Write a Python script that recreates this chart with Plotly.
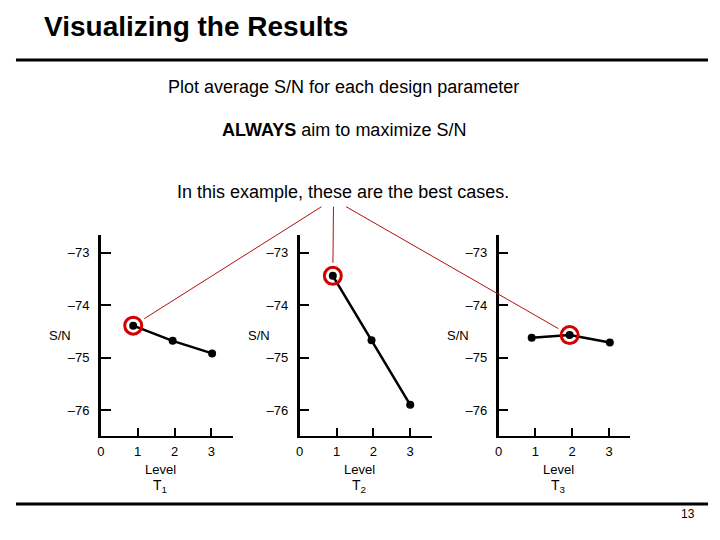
import plotly.graph_objects as go
import math

# ---- data ----
panel_names = ["T<sub>1</sub>", "T<sub>2</sub>", "T<sub>3</sub>"]
levels_t1 = [0.88, 1.95, 3.02]
sn_t1 = [-74.39, -74.68, -74.92]
levels_t2 = [0.90, 1.95, 3.00]
sn_t2 = [-73.44, -74.67, -75.90]
levels_t3 = [0.90, 1.93, 3.02]
sn_t3 = [-74.62, -74.57, -74.71]
best_index = [0, 0, 1]
y_tickvals = [-73, -74, -75, -76]
y_ticktext = ["\u201373", "\u201374", "\u201375", "\u201376"]
x_tickvals = [0, 1, 2, 3]
x_ticktext = ["0", "1", "2", "3"]

series = [(levels_t1, sn_t1), (levels_t2, sn_t2), (levels_t3, sn_t3)]

# page body has an 8px margin; figure is sized to fit inside the window
OFF = 8
W, H = 704, 524
FONT = "Liberation Sans, Arial, sans-serif"
XR = [0, 3.58]
YR = [-76.49, -72.66]
x_dom_px = [(97.3, 230.0), (297.3, 430.0), (497.3, 630.0)]  # window pixels
y_dom_px = (235.0, 435.7)  # top, bottom in window pixels


def px_x(p):
    return (p - OFF) / W


def px_y(p):
    return 1 - (p - OFF) / H


fig = go.Figure()
layout = dict(width=W, height=H, margin=dict(l=0, r=0, t=0, b=0, pad=0),
              paper_bgcolor="white", plot_bgcolor="white", showlegend=False,
              font=dict(family=FONT, color="black"))


def to_px(i, x, y):
    x0, x1 = x_dom_px[i]
    top, bot = y_dom_px
    px = x0 + (x - XR[0]) / (XR[1] - XR[0]) * (x1 - x0)
    py = bot - (y - YR[0]) / (YR[1] - YR[0]) * (bot - top)
    return px, py


annotations = []
shapes = []
for i, (lv, sn) in enumerate(series):
    xa = "x" if i == 0 else f"x{i+1}"
    ya = "y" if i == 0 else f"y{i+1}"
    fig.add_trace(go.Scatter(x=lv, y=sn, mode="lines+markers", xaxis=xa, yaxis=ya,
                             line=dict(color="black", width=2.5),
                             marker=dict(color="black", size=8), cliponaxis=False))
    b = best_index[i]
    fig.add_trace(go.Scatter(x=[lv[b]], y=[sn[b]], mode="markers", xaxis=xa, yaxis=ya,
                             marker=dict(symbol="circle-open", size=17, color="#d40000",
                                         line=dict(color="#d40000", width=3)),
                             cliponaxis=False))
    xkey = "xaxis" if i == 0 else f"xaxis{i+1}"
    ykey = "yaxis" if i == 0 else f"yaxis{i+1}"
    x0, x1 = x_dom_px[i]
    layout[xkey] = dict(domain=[px_x(x0), px_x(x1)], range=XR, anchor=ya,
                        showgrid=False, zeroline=False, showline=True,
                        linecolor="black", linewidth=2,
                        ticks="inside", ticklen=8, tickwidth=1.5, tickcolor="black",
                        tickvals=x_tickvals, ticktext=x_ticktext,
                        tickfont=dict(size=13, family=FONT), ticklabelstandoff=3)
    layout[ykey] = dict(domain=[px_y(y_dom_px[1]), px_y(y_dom_px[0])], range=YR,
                        anchor=xa, showgrid=False, zeroline=False, showline=True,
                        linecolor="black", linewidth=2.5,
                        ticks="inside", ticklen=10, tickwidth=1.5, tickcolor="black",
                        tickvals=y_tickvals, ticktext=y_ticktext,
                        tickfont=dict(size=13, family=FONT), ticklabelstandoff=6)
    cx = x0 + 60
    annotations.append(dict(text="Level", x=px_x(cx), y=px_y(469), xref="paper", yref="paper",
                            showarrow=False, font=dict(size=13), xanchor="center", yanchor="middle"))
    annotations.append(dict(text=panel_names[i], x=px_x(cx), y=px_y(486), xref="paper", yref="paper",
                            showarrow=False, font=dict(size=14), xanchor="center", yanchor="middle"))
    annotations.append(dict(text="S/N", x=px_x(x0 - 41), y=px_y(335), xref="paper", yref="paper",
                            showarrow=False, font=dict(size=13), xanchor="center", yanchor="middle"))

# red connector lines from the caption to the highlighted points
starts = [(319.3, 206.7), (331.3, 206.7), (344.0, 206.7)]
for i, (lv, sn) in enumerate(series):
    b = best_index[i]
    cx, cy = to_px(i, lv[b], sn[b])
    sx, sy = starts[i]
    dx, dy = sx - cx, sy - cy
    d = math.hypot(dx, dy)
    ex, ey = cx + dx / d * 13, cy + dy / d * 13
    shapes.append(dict(type="line", xref="paper", yref="paper",
                       x0=px_x(sx), y0=px_y(sy), x1=px_x(ex), y1=px_y(ey),
                       line=dict(color="#b01010", width=1)))

# slide furniture
shapes.append(dict(type="line", xref="paper", yref="paper", x0=px_x(12), x1=px_x(708),
                   y0=px_y(60), y1=px_y(60), line=dict(color="black", width=3)))
shapes.append(dict(type="line", xref="paper", yref="paper", x0=px_x(12), x1=px_x(708),
                   y0=px_y(504), y1=px_y(504), line=dict(color="black", width=3)))

annotations += [
    dict(text="<b>Visualizing the Results</b>", x=px_x(38), y=px_y(27), xref="paper", yref="paper",
         showarrow=False, xanchor="left", yanchor="middle", font=dict(size=28)),
    dict(text="Plot average S/N for each design parameter", x=px_x(341.5), y=px_y(87),
         xref="paper", yref="paper", showarrow=False, xanchor="center", yanchor="middle",
         font=dict(size=18)),
    dict(text="<b>ALWAYS</b> aim to maximize S/N", x=px_x(341.5), y=px_y(130),
         xref="paper", yref="paper", showarrow=False, xanchor="center", yanchor="middle",
         font=dict(size=18)),
    dict(text="In this example, these are the best cases.", x=px_x(341), y=px_y(192),
         xref="paper", yref="paper", showarrow=False, xanchor="center", yanchor="middle",
         font=dict(size=18)),
    dict(text="13", x=px_x(688), y=px_y(514), xref="paper", yref="paper", showarrow=False,
         xanchor="center", yanchor="middle", font=dict(size=12)),
]

layout["annotations"] = annotations
layout["shapes"] = shapes
fig.update_layout(**layout)
fig.write_html("out.html")
